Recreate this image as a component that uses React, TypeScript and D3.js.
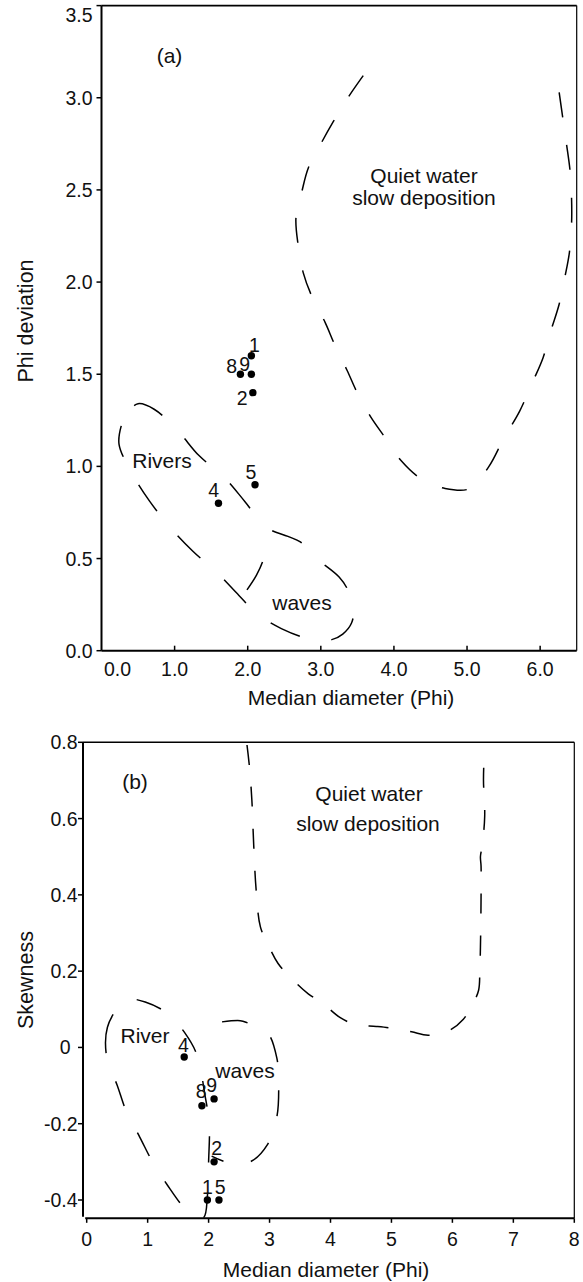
import React from "react";
import * as d3 from "d3";

type P = [number, number];

// ---------- tick values ----------
const aXTicks = [0, 1, 2, 3, 4, 5, 6];
const aYTicks = [0, 0.5, 1, 1.5, 2, 2.5, 3, 3.5];
const bXTicks = [0, 1, 2, 3, 4, 5, 6, 7, 8];
const bYTicks = [-0.4, -0.2, 0, 0.2, 0.4, 0.6, 0.8];

// ---------- samples, panel (a) ----------
const aLabels = ["1", "8", "9", "2", "5", "4"];
const aMedian = [2.05, 1.9, 2.05, 2.07, 2.1, 1.6];
const aDeviation = [1.6, 1.5, 1.5, 1.4, 0.9, 0.8];

// ---------- samples, panel (b) ----------
const bLabels = ["4", "8", "9", "2", "1", "5"];
const bMedian = [1.6, 1.89, 2.09, 2.09, 1.98, 2.17];
const bSkewness = [-0.025, -0.153, -0.135, -0.3, -0.4, -0.4];

// ---------- field boundaries, panel (a) ----------
const aQuietWater: P[] = [
  [3.58, 3.12], [3.37, 3.0], [3.17, 2.87], [3.0, 2.75], [2.83, 2.62], [2.74, 2.49],
  [2.66, 2.35], [2.69, 2.2], [2.76, 2.05], [2.88, 1.92], [3.06, 1.78], [3.19, 1.66],
  [3.36, 1.52], [3.51, 1.39], [3.68, 1.27], [3.89, 1.15], [4.1, 1.03], [4.38, 0.93],
  [4.7, 0.88], [5.04, 0.88], [5.3, 1.0], [5.5, 1.15], [5.72, 1.3], [5.9, 1.46],
  [6.04, 1.59], [6.15, 1.74], [6.26, 1.88], [6.34, 2.03], [6.4, 2.16], [6.43, 2.32],
  [6.43, 2.45], [6.41, 2.6], [6.36, 2.75], [6.31, 2.89], [6.26, 3.03],
];
const aRiversWaves: P[] = [
  [0.35, 1.29], [0.27, 1.22], [0.24, 1.12], [0.42, 0.96], [0.66, 0.81], [0.96, 0.66],
  [1.25, 0.54], [1.59, 0.42], [1.88, 0.3], [2.13, 0.2], [2.46, 0.12], [2.88, 0.06],
  [3.15, 0.06], [3.3, 0.09], [3.42, 0.15], [3.45, 0.24], [3.37, 0.33], [3.25, 0.4],
  [2.91, 0.51], [2.72, 0.59], [2.55, 0.62], [2.25, 0.67], [1.96, 0.81], [1.68, 0.94],
  [1.33, 1.06], [1.05, 1.19], [0.72, 1.31], [0.5, 1.34],
];
const aDivider: P[] = [[1.99, 0.33], [2.12, 0.41], [2.21, 0.49], [2.27, 0.6]];

// ---------- field boundaries, panel (b) ----------
const bQuietWater: P[] = [
  [2.63, 0.793], [2.67, 0.736], [2.71, 0.648], [2.74, 0.531], [2.78, 0.413], [2.85, 0.316],
  [2.98, 0.268], [3.14, 0.22], [3.36, 0.181], [3.64, 0.14], [3.87, 0.116], [4.16, 0.078],
  [4.43, 0.059], [4.75, 0.055], [5.03, 0.05], [5.33, 0.041], [5.6, 0.032], [5.93, 0.043],
  [6.18, 0.074], [6.34, 0.116], [6.43, 0.15], [6.45, 0.2], [6.46, 0.263], [6.47, 0.389],
  [6.47, 0.476], [6.46, 0.5], [6.49, 0.53], [6.53, 0.607], [6.51, 0.701], [6.52, 0.761],
];
const bRiver: P[] = [
  [0.55, 0.111], [0.34, 0.053], [0.33, -0.028], [0.5, -0.099], [0.66, -0.172], [0.87, -0.235],
  [1.09, -0.303], [1.32, -0.36], [1.61, -0.423], [1.78, -0.446], [1.92, -0.446], [1.98, -0.39],
  [2.0, -0.3], [2.01, -0.2], [1.94, -0.125], [1.81, -0.02], [1.61, 0.038], [1.32, 0.09],
  [0.96, 0.119], [0.71, 0.126],
];
const bWaves: P[] = [
  [2.22, 0.067], [2.52, 0.07], [2.63, 0.065], [2.96, 0.04], [3.12, -0.028], [3.15, -0.106],
  [3.12, -0.182], [2.96, -0.256], [2.68, -0.3], [2.35, -0.303], [2.05, -0.285],
];

// label placement (pixel offsets from the dot)
const aLabelOffset: P[] = [[3, -11], [-8.7, -8.3], [-6.7, -10], [-10.7, 5], [-4, -12.6], [-4.7, -13]];
const bLabelOffset: P[] = [[-0.7, -11.7], [-0.7, -15], [-2.3, -14], [2.7, -13.4], [0, -13.3], [1.3, -13.3]];

const FONT = "'Liberation Sans', Arial, Helvetica, sans-serif";
const TICK_FS = 19.5;
const TITLE_FS = 21;
const NOTE_FS = 21;
const PT_FS = 19.5;

export default function App() {
  const xA = d3.scaleLinear().domain([0, 6.5]).range([101.5, 576.7]);
  const yA = d3.scaleLinear().domain([0, 3.5]).range([650.7, 5.6]);
  const xB = d3.scaleLinear().domain([0, 8]).range([86.7, 574.3]);
  const yB = d3.scaleLinear().domain([-0.4, 0.8]).range([1200, 742.3]);

  const lineA = d3.line<P>().x((d) => xA(d[0])).y((d) => yA(d[1])).curve(d3.curveCatmullRom.alpha(0.5));
  const loopA = d3.line<P>().x((d) => xA(d[0])).y((d) => yA(d[1])).curve(d3.curveCatmullRomClosed.alpha(0.5));
  const lineB = d3.line<P>().x((d) => xB(d[0])).y((d) => yB(d[1])).curve(d3.curveCatmullRom.alpha(0.5));
  const loopB = d3.line<P>().x((d) => xB(d[0])).y((d) => yB(d[1])).curve(d3.curveCatmullRomClosed.alpha(0.5));

  const fmt1 = d3.format(".1f");
  const fmtB = (v: number) => (Math.abs(v) < 1e-9 ? "0" : d3.format(".1f")(v).replace("−", "-"));

  const aL = xA(0), aR = xA(6.5), aT = yA(3.5), aBt = yA(0);
  const bL = 83, bR = xB(8), bT = yB(0.8), bBt = 1218.3;

  const dash = { fill: "none", stroke: "#000", strokeWidth: 1.5 } as const;

  return (
    <svg
      width={583}
      height={1282}
      viewBox="0 0 583 1282"
      style={{ position: "absolute", left: 0, top: 0, display: "block", background: "#fff" }}
      fontFamily={FONT}
    >
      <rect x={0} y={0} width={583} height={1282} fill="#fff" />

      {/* ================= Panel (a) ================= */}
      <g>
        <line x1={aL} x2={aR} y1={aT} y2={aT} stroke="#000" strokeWidth={1.6} />
        <line x1={aR} x2={aR} y1={aT} y2={aBt} stroke="#000" strokeWidth={1.2} />
        <line x1={aL} x2={aL} y1={aT} y2={aBt} stroke="#000" strokeWidth={2} />
        <line x1={aL} x2={aR} y1={aBt} y2={aBt} stroke="#000" strokeWidth={2} />
        {aYTicks.map((v) => (
          <g key={"ay" + v}>
            <line x1={aL - 5} x2={aL} y1={yA(v)} y2={yA(v)} stroke="#000" strokeWidth={1.5} />
            <text
              x={92.5}
              y={Math.max(yA(v), 15)}
              textAnchor="end"
              dominantBaseline="central"
              fontSize={TICK_FS}
              fill="#111"
            >
              {fmt1(v)}
            </text>
          </g>
        ))}
        {aXTicks.map((v) => (
          <g key={"ax" + v}>
            {v > 0 && <line x1={xA(v)} x2={xA(v)} y1={aBt} y2={aBt - 5} stroke="#000" strokeWidth={1.5} />}
            <text x={xA(v) + (v === 0 ? 16 : 0)} y={676} textAnchor="middle" fontSize={TICK_FS} fill="#111">
              {fmt1(v)}
            </text>
          </g>
        ))}
        <text x={351} y={705} textAnchor="middle" fontSize={TITLE_FS} fill="#111">Median diameter (Phi)</text>
        <text transform="translate(33,321) rotate(-90)" textAnchor="middle" fontSize={TITLE_FS + 0.5} fill="#111">
          Phi deviation
        </text>

        <path d={lineA(aQuietWater) || ""} {...dash} strokeDasharray="25 28" />
        <path d={loopA(aRiversWaves) || ""} {...dash} strokeDasharray="32 32" />
        <path d={lineA(aDivider) || ""} {...dash} strokeDasharray="32 40" />

        <text x={169.5} y={63} textAnchor="middle" fontSize={NOTE_FS} fill="#111">(a)</text>
        <text x={424} y={183} textAnchor="middle" fontSize={NOTE_FS} fill="#111">Quiet water</text>
        <text x={424} y={205} textAnchor="middle" fontSize={NOTE_FS} fill="#111">slow deposition</text>
        <text x={162} y={468} textAnchor="middle" fontSize={NOTE_FS} fill="#111">Rivers</text>
        <text x={302} y={610} textAnchor="middle" fontSize={NOTE_FS} fill="#111">waves</text>

        {aLabels.map((lab, i) => (
          <g key={"ap" + lab}>
            <circle cx={xA(aMedian[i])} cy={yA(aDeviation[i])} r={3.7} fill="#000" />
            <text
              x={xA(aMedian[i]) + aLabelOffset[i][0]}
              y={yA(aDeviation[i]) + aLabelOffset[i][1]}
              textAnchor="middle"
              dominantBaseline="central"
              fontSize={PT_FS}
              fill="#111"
            >
              {lab}
            </text>
          </g>
        ))}
      </g>

      {/* ================= Panel (b) ================= */}
      <g>
        <line x1={bL} x2={bR} y1={bT} y2={bT} stroke="#000" strokeWidth={1.6} />
        <line x1={bR} x2={bR} y1={bT} y2={bBt} stroke="#000" strokeWidth={1.2} />
        <line x1={bL} x2={bL} y1={bT} y2={bBt - 1.5} stroke="#000" strokeWidth={2} />
        <line x1={xB(0) - 1.5} x2={bR} y1={bBt} y2={bBt} stroke="#000" strokeWidth={2} />
        {bYTicks.map((v) => (
          <g key={"by" + v}>
            <line x1={bL - 5} x2={bL} y1={yB(v)} y2={yB(v)} stroke="#000" strokeWidth={1.5} />
            <text
              x={77.5 + (Math.abs(v) < 1e-9 ? -7 : 0)}
              y={yB(v)}
              textAnchor="end"
              dominantBaseline="central"
              fontSize={TICK_FS}
              fill="#111"
            >
              {fmtB(v)}
            </text>
          </g>
        ))}
        {bXTicks.map((v) => (
          <g key={"bx" + v}>
            <line x1={xB(v)} x2={xB(v)} y1={bBt} y2={bBt + 4.5} stroke="#000" strokeWidth={1.5} />
            <text x={xB(v)} y={1245.5} textAnchor="middle" fontSize={TICK_FS} fill="#111">
              {String(v)}
            </text>
          </g>
        ))}
        <text x={326} y={1277} textAnchor="middle" fontSize={TITLE_FS} fill="#111">Median diameter (Phi)</text>
        <text transform="translate(33,980) rotate(-90)" textAnchor="middle" fontSize={TITLE_FS + 0.5} fill="#111">
          Skewness
        </text>

        <path d={lineB(bQuietWater) || ""} {...dash} strokeDasharray="20 22" />
        <path d={loopB(bRiver) || ""} {...dash} strokeDasharray="26 30" />
        <path d={lineB(bWaves) || ""} {...dash} strokeDasharray="26 28" />

        <text x={135} y={789} textAnchor="middle" fontSize={NOTE_FS} fill="#111">(b)</text>
        <text x={369} y={800.5} textAnchor="middle" fontSize={NOTE_FS} fill="#111">Quiet water</text>
        <text x={368} y={831} textAnchor="middle" fontSize={NOTE_FS} fill="#111">slow deposition</text>
        <text x={145} y={1043} textAnchor="middle" fontSize={NOTE_FS} fill="#111">River</text>
        <text x={245} y={1078} textAnchor="middle" fontSize={NOTE_FS} fill="#111">waves</text>

        {bLabels.map((lab, i) => (
          <g key={"bp" + lab}>
            <circle cx={xB(bMedian[i])} cy={yB(bSkewness[i])} r={3.7} fill="#000" />
            <text
              x={xB(bMedian[i]) + bLabelOffset[i][0]}
              y={yB(bSkewness[i]) + bLabelOffset[i][1]}
              textAnchor="middle"
              dominantBaseline="central"
              fontSize={PT_FS}
              fill="#111"
            >
              {lab}
            </text>
          </g>
        ))}
      </g>
    </svg>
  );
}
